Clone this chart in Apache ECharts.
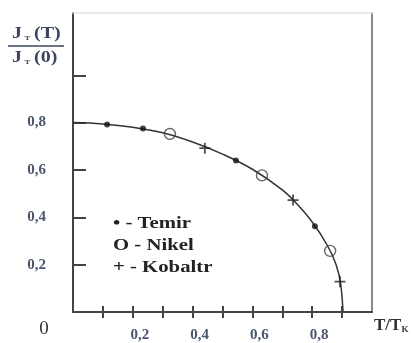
<!DOCTYPE html>
<html>
<head>
<meta charset="utf-8">
<script src="https://cdn.jsdelivr.net/npm/echarts@6/dist/echarts.min.js"></script>
<style>
  html, body { margin: 0; padding: 0; background: #fff; }
  #main { width: 414px; height: 343px; }
</style>
</head>
<body>
<div id="main"></div>
<script>
// theoretical curve J_T(T)/J_T(0) against T/T_K
var curveX = [0, 0.1, 0.2, 0.3, 0.4, 0.5, 0.6, 0.7, 0.75, 0.8, 0.85, 0.88, 0.895, 0.903];
var curveY = [0.800, 0.794, 0.780, 0.757, 0.718, 0.667, 0.603, 0.516, 0.455, 0.38, 0.283, 0.2, 0.12, 0];

// measured points
var temirX = [0.114, 0.234, 0.545, 0.809];
var temirY = [0.792, 0.775, 0.64, 0.362];
var nikelX = [0.324, 0.632, 0.86];
var nikelY = [0.752, 0.577, 0.258];
var kobaltX = [0.441, 0.736, 0.893];
var kobaltY = [0.692, 0.473, 0.128];

// axis ticks / labels
var xTicks = [0.1, 0.2, 0.3, 0.4, 0.5, 0.6, 0.7, 0.8, 0.9];
var xLabels = [0.2, 0.4, 0.6, 0.8];
var yTicks = [0.2, 0.4, 0.6, 0.8, 1.0];
var yLabels = [0.2, 0.4, 0.6, 0.8];
var legendNames = ['• - Temir', 'O - Nikel', '+ - Kobaltr'];

function pairs(xs, ys) {
    return xs.map(function (x, i) { return [x, ys[i]]; });
}
function comma(v) {
    return String(v).replace('.', ',');
}

var serif = '"Liberation Serif", "DejaVu Serif", serif';
var labelColor = '#4b5670';
var titleColor = '#3d4660';
var axisColor = '#444';

var chart = echarts.init(document.getElementById('main'));
var option = {
    animation: false,
    grid: { left: 73, right: 42, top: 13, bottom: 30 },
    xAxis: [{
        type: 'value', min: 0, max: 1,
        splitLine: { show: false },
        axisLine: { onZero: false, lineStyle: { color: axisColor, width: 2 } },
        axisTick: { customValues: xTicks, length: 6, lineStyle: { color: axisColor, width: 2 } },
        axisLabel: {
            customValues: xLabels, formatter: comma, margin: 16,
            padding: [0, 0, 0, 14],
            fontFamily: serif, fontWeight: 'bold', fontSize: 15, color: labelColor
        },
        name: 'T/T{s|K}', nameLocation: 'end', nameGap: 2,
        nameTextStyle: {
            fontFamily: serif, fontWeight: 'bold', fontSize: 17, color: '#333',
            align: 'left', padding: [28, 0, 0, 0],
            rich: { s: { fontFamily: serif, fontWeight: 'bold', fontSize: 9, color: '#333', padding: [8, 0, 0, 0] } }
        }
    }, {
        // inner half of the crossing ticks
        type: 'value', min: 0, max: 1, position: 'bottom',
        splitLine: { show: false },
        axisLine: { show: false, onZero: false },
        axisTick: { customValues: xTicks, inside: true, length: 6, lineStyle: { color: axisColor, width: 2 } },
        axisLabel: { show: false }
    }, {
        // light top frame
        type: 'value', min: 0, max: 1, position: 'top',
        splitLine: { show: false },
        axisLine: { onZero: false, lineStyle: { color: '#e4e4e4', width: 1.5 } },
        axisTick: { show: false },
        axisLabel: { show: false }
    }],
    yAxis: [{
        type: 'value', min: 0, max: 1.263,
        splitLine: { show: false },
        axisLine: { onZero: false, lineStyle: { color: axisColor, width: 2 } },
        axisTick: { customValues: yTicks, inside: true, length: 13, lineStyle: { color: axisColor, width: 2 } },
        axisLabel: {
            customValues: yLabels, formatter: comma, margin: 27,
            fontFamily: serif, fontWeight: 'bold', fontSize: 15, color: labelColor
        }
    }, {
        // right frame
        type: 'value', min: 0, max: 1.263, position: 'right',
        splitLine: { show: false },
        axisLine: { onZero: false, lineStyle: { color: '#8a8a8a', width: 2 } },
        axisTick: { show: false },
        axisLabel: { show: false }
    }],
    graphic: [
        {
            type: 'text', x: 12, y: 34, scaleX: 1.25,
            style: {
                text: 'J{s|T}(T)', fontFamily: serif, fontWeight: 'bold', fontSize: 16, fill: titleColor,
                verticalAlign: 'middle',
                rich: { s: { fontFamily: serif, fontWeight: 'bold', fontSize: 7, fill: titleColor, padding: [8, 3, 0, 2] } }
            }
        },
        {
            type: 'line', shape: { x1: 8, y1: 46, x2: 64, y2: 46 },
            style: { stroke: titleColor, lineWidth: 1.5 }
        },
        {
            type: 'text', x: 12, y: 58, scaleX: 1.25,
            style: {
                text: 'J{s|T}(0)', fontFamily: serif, fontWeight: 'bold', fontSize: 16, fill: titleColor,
                verticalAlign: 'middle',
                rich: { s: { fontFamily: serif, fontWeight: 'bold', fontSize: 7, fill: titleColor, padding: [8, 3, 0, 2] } }
            }
        },
        {
            type: 'text', x: 44, y: 329,
            style: { text: '0', fontFamily: serif, fontSize: 19, fill: '#333', align: 'center', verticalAlign: 'middle' }
        }
    ].concat(legendNames.map(function (name, i) {
        return {
            type: 'text', x: 113, y: 224 + i * 22, scaleX: 1.22,
            style: {
                text: name, fontFamily: serif, fontWeight: 'bold', fontSize: 17, fill: '#222',
                align: 'left', verticalAlign: 'middle'
            }
        };
    })),
    series: [{
        name: 'curve', type: 'line',
        data: pairs(curveX, curveY),
        smooth: 0.4,
        showSymbol: false,
        lineStyle: { color: '#333', width: 1.5 },
        z: 2
    }, {
        name: 'Temir', type: 'scatter',
        data: pairs(temirX, temirY),
        symbol: 'circle', symbolSize: 6,
        itemStyle: { color: '#111' },
        z: 3
    }, {
        name: 'Nikel', type: 'scatter',
        data: pairs(nikelX, nikelY),
        symbol: 'circle', symbolSize: 11,
        itemStyle: { color: 'rgba(0,0,0,0)', borderColor: '#444', borderWidth: 1.4 },
        z: 3
    }, {
        name: 'Kobaltr', type: 'scatter',
        data: pairs(kobaltX, kobaltY),
        symbol: 'path://M4.2,0h1.6v10h-1.6z M0,4.2h10v1.6h-10z', symbolSize: 11,
        itemStyle: { color: '#222' },
        z: 3
    }]
};
chart.setOption(option);
</script>
</body>
</html>
